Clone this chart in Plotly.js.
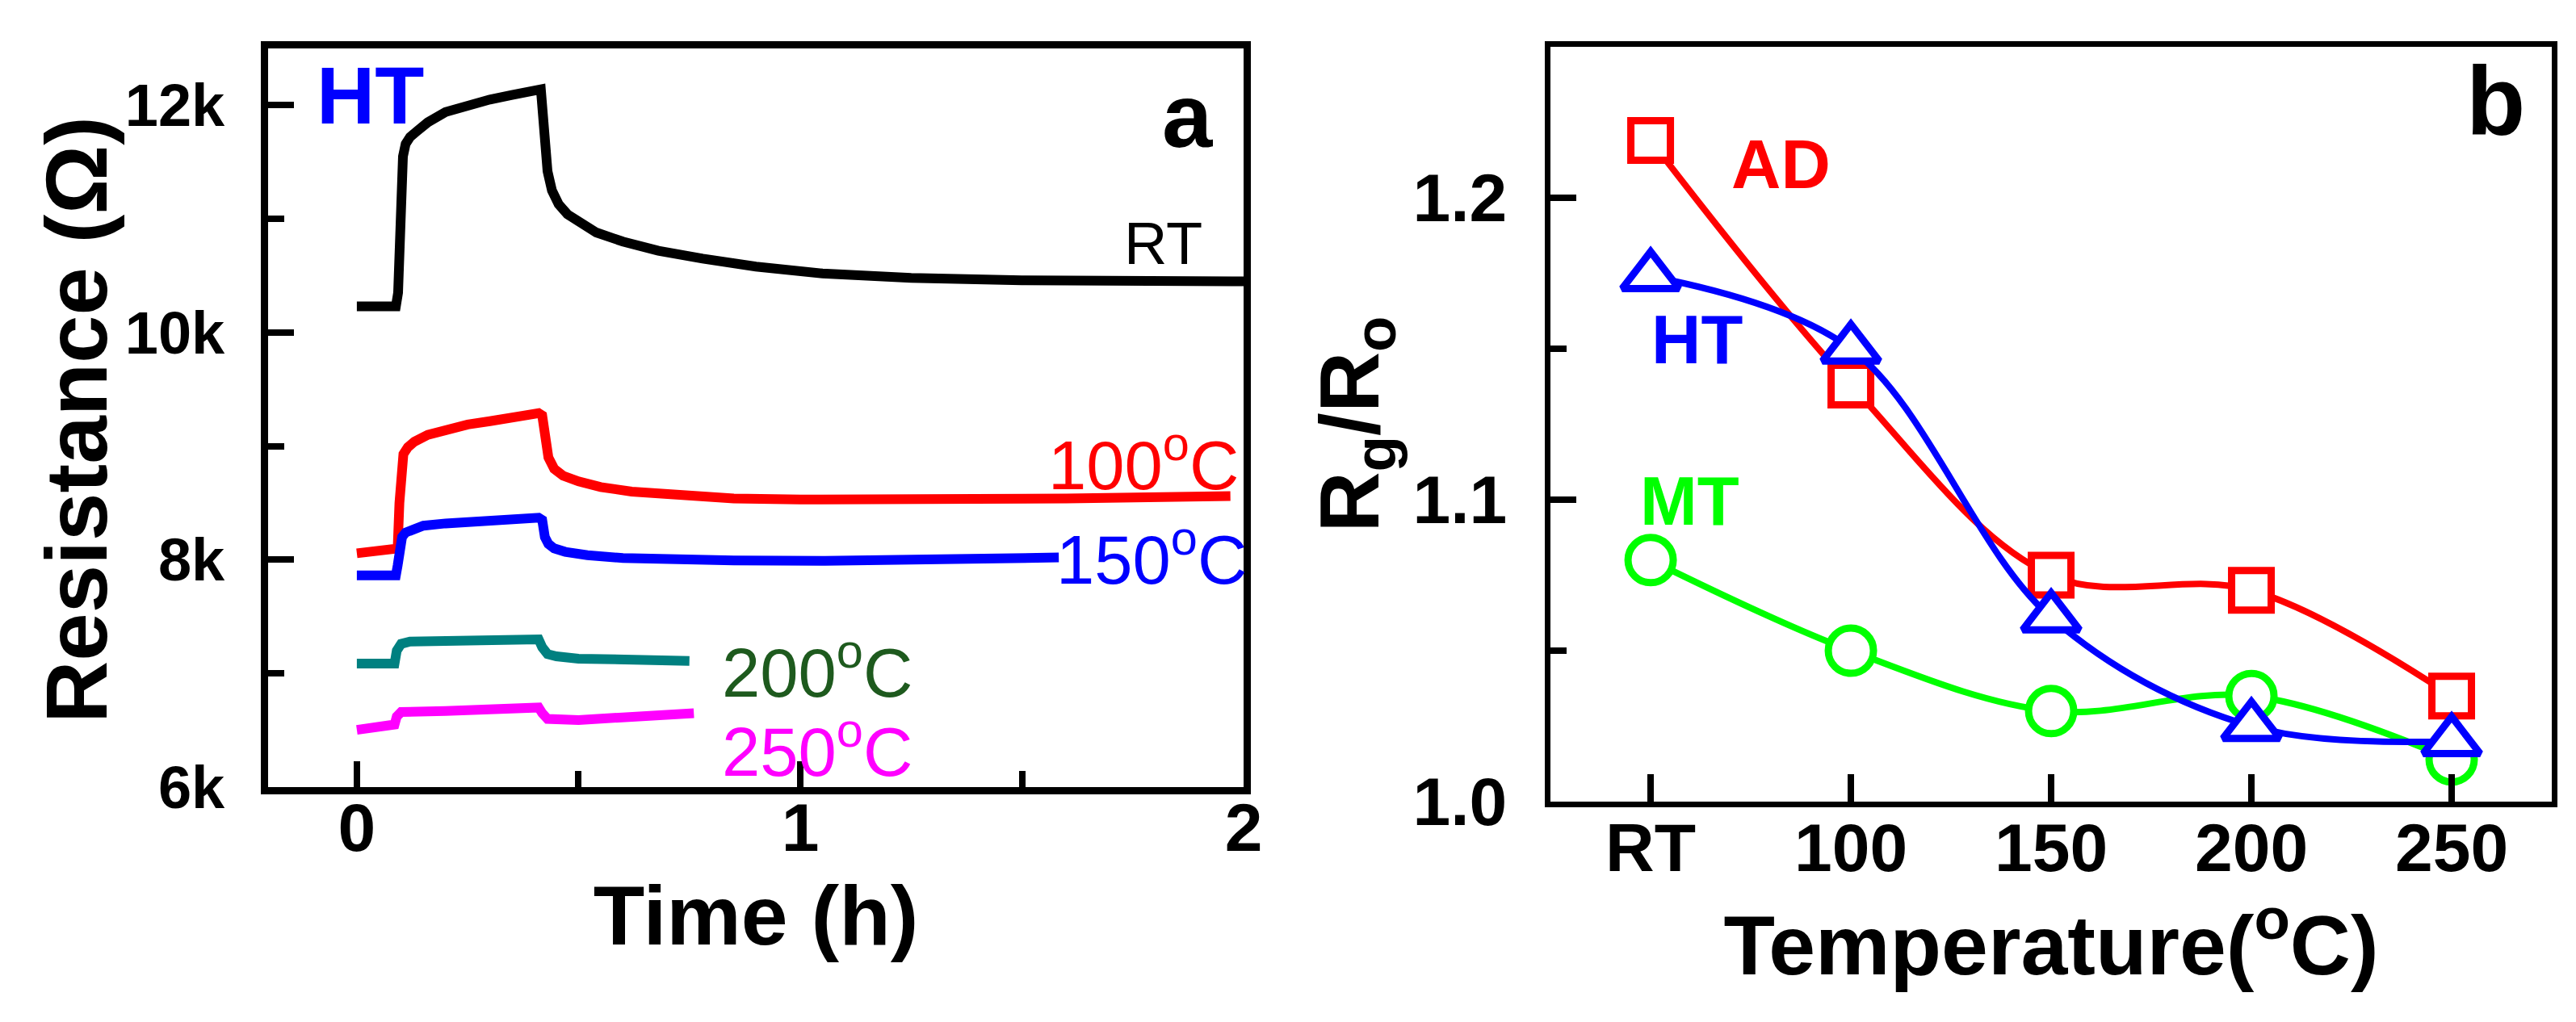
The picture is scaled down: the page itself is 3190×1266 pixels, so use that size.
<!DOCTYPE html>
<html>
<head>
<meta charset="utf-8">
<script src="https://cdn.plot.ly/plotly-3.0.1.min.js"></script>
<style>
  html, body { margin: 0; padding: 0; background: #fff; }
  #chart { width: 3190px; height: 1266px; }
</style>
</head>
<body>
<div id="chart"></div>
<script>
// panel a: resistance vs time at each operating temperature (HT sample)
const timeRT = [0, 0.05, 0.088, 0.093, 0.097, 0.1, 0.104, 0.11, 0.12, 0.135, 0.16, 0.2, 0.25, 0.3, 0.35, 0.405, 0.415, 0.42, 0.425, 0.43, 0.44, 0.455, 0.475, 0.5, 0.54, 0.6, 0.68, 0.78, 0.9, 1.05, 1.25, 1.5, 1.75, 2.0];
const resRT = [10230, 10220, 10230, 10350, 10900, 11300, 11550, 11660, 11720, 11770, 11850, 11940, 12000, 12050, 12090, 12130, 12140, 11900, 11600, 11420, 11250, 11130, 11040, 10970, 10880, 10800, 10720, 10650, 10580, 10520, 10480, 10460, 10450, 10450];

const time100 = [0, 0.08, 0.092, 0.096, 0.1, 0.105, 0.115, 0.13, 0.16, 0.2, 0.25, 0.3, 0.35, 0.41, 0.418, 0.425, 0.432, 0.445, 0.465, 0.5, 0.55, 0.62, 0.72, 0.85, 1.0, 1.3, 1.6, 1.97];
const res100 = [8057, 8086, 8100, 8500, 8850, 8930, 8990, 9040, 9100, 9150, 9190, 9220, 9250, 9290, 9270, 9050, 8900, 8800, 8740, 8690, 8640, 8600, 8570, 8540, 8530, 8530, 8540, 8560];

const time150 = [0, 0.088, 0.092, 0.097, 0.102, 0.11, 0.125, 0.15, 0.2, 0.3, 0.41, 0.418, 0.424, 0.432, 0.445, 0.47, 0.52, 0.6, 0.7, 0.85, 1.056, 1.3, 1.583];
const res150 = [7863, 7863, 7950, 8130, 8200, 8240, 8270, 8300, 8320, 8350, 8370, 8350, 8200, 8140, 8100, 8070, 8040, 8015, 8000, 7995, 7990, 8000, 8020];

const time200 = [0, 0.085, 0.09, 0.1, 0.12, 0.2, 0.41, 0.418, 0.43, 0.45, 0.5, 0.75];
const res200 = [7086, 7086, 7200, 7260, 7280, 7290, 7300, 7230, 7170, 7150, 7130, 7110];

const time250 = [0, 0.085, 0.09, 0.1, 0.2, 0.41, 0.418, 0.43, 0.5, 0.76];
const res250 = [6503, 6550, 6620, 6660, 6670, 6700, 6650, 6600, 6590, 6650];

const resTickVals = [6000, 8000, 10000, 12000];
const resTickText = ['6k', '8k', '10k', '12k'];

// panel b: response Rg/Ro vs temperature
const temps = ['RT', '100', '150', '200', '250'];
const ratioAD = [1.219, 1.138, 1.075, 1.070, 1.035];
const ratioHT = [1.174, 1.150, 1.061, 1.025, 1.020];
const ratioMT = [1.080, 1.050, 1.030, 1.035, 1.014];

const FONT = 'Liberation Sans, Arial, Helvetica, sans-serif';

function curve(x, y, color) {
  return {
    type: 'scatter', mode: 'lines', x: x, y: y,
    xaxis: 'x', yaxis: 'y',
    line: { color: color, width: 12 },
    hoverinfo: 'skip'
  };
}

function series(y, color, symbol, size) {
  return {
    type: 'scatter', mode: 'lines+markers', x: temps, y: y,
    xaxis: 'x2', yaxis: 'y2',
    line: { color: color, width: 8, shape: 'spline', smoothing: 1 },
    marker: { symbol: symbol, size: size, color: 'white', line: { color: color, width: 9 } },
    cliponaxis: false
  };
}

const data = [
  curve(timeRT, resRT, '#000000'),
  curve(time100, res100, '#ff0000'),
  curve(time150, res150, '#0000ff'),
  curve(time200, res200, '#008080'),
  curve(time250, res250, '#ff00ff'),
  series(ratioAD, '#ff0000', 'square', 49),
  series(ratioMT, '#00ff00', 'circle', 56),
  series(ratioHT, '#0000ff', 'triangle-up', 61)
];

const tickFont = { family: FONT, size: 84, color: 'black', weight: 'bold' };
const titleFont = { family: FONT, size: 104, color: 'black', weight: 'bold' };

function frame(extra) {
  return Object.assign({
    showline: true, mirror: true, linecolor: 'black',
    showgrid: false, zeroline: false,
    ticks: 'inside', ticklen: 32, tickwidth: 8, tickcolor: 'black',
    tickfont: tickFont
  }, extra);
}

const layout = {
  width: 3190, height: 1266,
  margin: { l: 0, r: 0, t: 0, b: 0 },
  paper_bgcolor: 'white', plot_bgcolor: 'white',
  showlegend: false,
  font: { family: FONT, color: 'black' },
  xaxis: frame({
    domain: [0.1041, 0.4828], anchor: 'y', range: [-0.2, 2.0],
    tickvals: [0, 1, 2], linewidth: 9, ticklabelstandoff: -31,
    minor: { tickvals: [0.5, 1.5], ticks: 'inside', ticklen: 20, tickwidth: 8, tickcolor: 'black', showgrid: false },
    title: { text: 'Time (h)', font: titleFont, standoff: 30 }
  }),
  yaxis: frame({
    domain: [0.2299, 0.9526], anchor: 'x', range: [6000, 12500],
    tickvals: resTickVals, ticktext: resTickText, linewidth: 9, ticklabelstandoff: 30,
    tickfont: { family: FONT, size: 74, color: 'black', weight: 'bold' },
    minor: { tickvals: [7000, 9000, 11000], ticks: 'inside', ticklen: 20, tickwidth: 8, tickcolor: 'black', showgrid: false }
  }),
  xaxis2: frame({
    domain: [0.6019, 0.9906], anchor: 'y2', type: 'category', range: [-0.5, 4.5],
    linewidth: 7, ticklen: 34, ticklabelstandoff: -22,
    title: { text: 'Temperature(<sup>o</sup>C)', font: titleFont, standoff: 22 }
  }),
  yaxis2: frame({
    domain: [0.2156, 0.9542], anchor: 'x2', range: [1.0, 1.25],
    tickvals: [1.0, 1.1, 1.2], tickformat: '.1f', linewidth: 7, ticklabelstandoff: 30,
    minor: { tickvals: [1.05, 1.15], ticks: 'inside', ticklen: 20, tickwidth: 8, tickcolor: 'black', showgrid: false },
    title: { text: 'R<sub>g</sub>/R<sub>o</sub>', font: titleFont, standoff: 10 }
  }),
  annotations: [
    // y title of panel a sits closer to its tick labels than axis title standoff allows
    { xref: 'paper', yref: 'paper', x: 0.030, y: 0.589, text: 'Resistance (\u03A9)', textangle: -90,
      xanchor: 'center', yanchor: 'middle', showarrow: false,
      font: { family: FONT, size: 107, color: 'black', weight: 'bold' } },
    { xref: 'x', yref: 'y', x: -0.095, y: 12087, text: 'HT', xanchor: 'left', yanchor: 'middle', showarrow: false,
      font: { family: FONT, size: 100, color: '#0000ff', weight: 'bold' } },
    { xref: 'x', yref: 'y', x: 1.873, y: 11909, text: 'a', xanchor: 'center', yanchor: 'middle', showarrow: false,
      font: { family: FONT, size: 112, color: 'black', weight: 'bold' } },
    { xref: 'x', yref: 'y', x: 1.91, y: 10787, text: 'RT', xanchor: 'right', yanchor: 'middle', showarrow: false,
      font: { family: FONT, size: 74, color: 'black' } },
    { xref: 'x', yref: 'y', x: 1.993, y: 8876, text: '100<sup>o</sup>C', xanchor: 'right', yanchor: 'middle', showarrow: false,
      font: { family: FONT, size: 85, color: '#ff0000' } },
    { xref: 'x', yref: 'y', x: 2.0, y: 8045, xshift: 6, text: '150<sup>o</sup>C', xanchor: 'right', yanchor: 'middle', showarrow: false,
      font: { family: FONT, size: 85, color: '#0000ff' } },
    { xref: 'x', yref: 'y', x: 0.819, y: 7051, text: '200<sup>o</sup>C', xanchor: 'left', yanchor: 'middle', showarrow: false,
      font: { family: FONT, size: 85, color: '#1e5a1e' } },
    { xref: 'x', yref: 'y', x: 0.819, y: 6355, text: '250<sup>o</sup>C', xanchor: 'left', yanchor: 'middle', showarrow: false,
      font: { family: FONT, size: 85, color: '#ff00ff' } },
    { xref: 'x2', yref: 'y2', x: 0.65, y: 1.211, text: 'AD', xanchor: 'center', yanchor: 'middle', showarrow: false,
      font: { family: FONT, size: 85, color: '#ff0000', weight: 'bold' } },
    { xref: 'x2', yref: 'y2', x: 0.233, y: 1.153, text: 'HT', xanchor: 'center', yanchor: 'middle', showarrow: false,
      font: { family: FONT, size: 85, color: '#0000ff', weight: 'bold' } },
    { xref: 'x2', yref: 'y2', x: 0.197, y: 1.0997, text: 'MT', xanchor: 'center', yanchor: 'middle', showarrow: false,
      font: { family: FONT, size: 85, color: '#00ff00', weight: 'bold' } },
    { xref: 'x2', yref: 'y2', x: 4.22, y: 1.232, text: 'b', xanchor: 'center', yanchor: 'middle', showarrow: false,
      font: { family: FONT, size: 120, color: 'black', weight: 'bold' } }
  ]
};

Plotly.newPlot('chart', data, layout, { staticPlot: true });
</script>
</body>
</html>
